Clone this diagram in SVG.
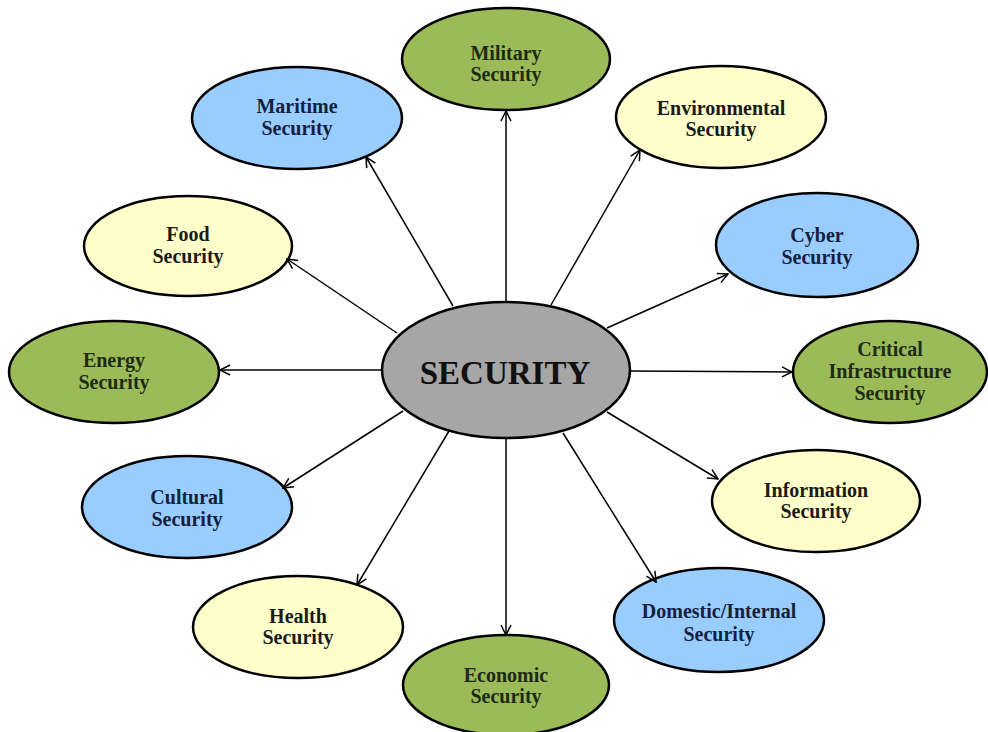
<svg xmlns="http://www.w3.org/2000/svg" width="988" height="732" viewBox="0 0 988 732">
<style>
  .node ellipse { stroke: #000; stroke-width: 2.5; }
  .green ellipse { fill: #9bbb59; }
  .blue ellipse { fill: #99ccff; }
  .yellow ellipse { fill: #ffffcc; }
  .center ellipse { fill: #a6a6a6; }
  text { font-family: "Liberation Serif", "Times New Roman", serif; font-weight: bold; font-size: 20px; text-anchor: middle; fill: #1a1a1a; }
  .blue text { fill: #14213d; }
  .green text { fill: #1e2a14; }
  .center text { font-size: 33px; fill: #111; }
  .conn line { stroke: #000; stroke-width: 1.5; fill: none; marker-end: url(#arr); }
</style>
<defs>
  <marker id="arr" viewBox="0 0 12 12" refX="11" refY="6" markerWidth="12" markerHeight="12" markerUnits="userSpaceOnUse" orient="auto">
    <path d="M1,1 L11,6 L1,11" fill="none" stroke="#000" stroke-width="1.5"/>
  </marker>
</defs>
<rect width="988" height="732" fill="#fff"/>

<g id="military" class="node green"><ellipse cx="506" cy="59" rx="104" ry="51"/><text x="506" y="60">Military</text><text x="506" y="81">Security</text></g>
<g id="environmental" class="node yellow"><ellipse cx="721" cy="117" rx="105" ry="51"/><text x="721" y="115">Environmental</text><text x="721" y="136">Security</text></g>
<g id="cyber" class="node blue"><ellipse cx="817" cy="245" rx="101" ry="52"/><text x="817" y="242">Cyber</text><text x="817" y="264">Security</text></g>
<g id="critical" class="node green"><ellipse cx="890" cy="372" rx="97" ry="51"/><text x="890" y="356">Critical</text><text x="890" y="378">Infrastructure</text><text x="890" y="400">Security</text></g>
<g id="information" class="node yellow"><ellipse cx="816" cy="501" rx="104" ry="51"/><text x="816" y="497">Information</text><text x="816" y="518">Security</text></g>
<g id="domestic" class="node blue"><ellipse cx="719" cy="620" rx="105" ry="52"/><text x="719" y="618">Domestic/Internal</text><text x="719" y="641">Security</text></g>
<g id="economic" class="node green"><ellipse cx="506" cy="685" rx="103" ry="50"/><text x="506" y="682">Economic</text><text x="506" y="703">Security</text></g>
<g id="health" class="node yellow"><ellipse cx="298" cy="627" rx="105" ry="51"/><text x="298" y="623">Health</text><text x="298" y="644">Security</text></g>
<g id="cultural" class="node blue"><ellipse cx="187" cy="507" rx="105" ry="51"/><text x="187" y="504">Cultural</text><text x="187" y="526">Security</text></g>
<g id="energy" class="node green"><ellipse cx="114" cy="372" rx="105" ry="51"/><text x="114" y="367">Energy</text><text x="114" y="389">Security</text></g>
<g id="food" class="node yellow"><ellipse cx="188" cy="246" rx="104" ry="50"/><text x="188" y="241">Food</text><text x="188" y="263">Security</text></g>
<g id="maritime" class="node blue"><ellipse cx="297" cy="118" rx="105" ry="51"/><text x="297" y="113">Maritime</text><text x="297" y="135">Security</text></g>

<g id="security" class="node center"><ellipse cx="506" cy="370" rx="124" ry="68"/><text x="505" y="384">SECURITY</text></g>

<g id="connectors" class="conn">
  <line x1="506" y1="302" x2="506" y2="111"/>
  <line x1="551" y1="305" x2="640" y2="150"/>
  <line x1="607" y1="328" x2="728" y2="274"/>
  <line x1="630" y1="371" x2="792" y2="372"/>
  <line x1="607" y1="412" x2="718" y2="479"/>
  <line x1="563" y1="433" x2="656" y2="582"/>
  <line x1="506" y1="438" x2="506" y2="635"/>
  <line x1="449" y1="431" x2="357" y2="585"/>
  <line x1="403" y1="411" x2="283" y2="488"/>
  <line x1="382" y1="370" x2="220" y2="370"/>
  <line x1="397" y1="333" x2="287" y2="259"/>
  <line x1="453" y1="306" x2="366" y2="157"/>
</g>
</svg>
